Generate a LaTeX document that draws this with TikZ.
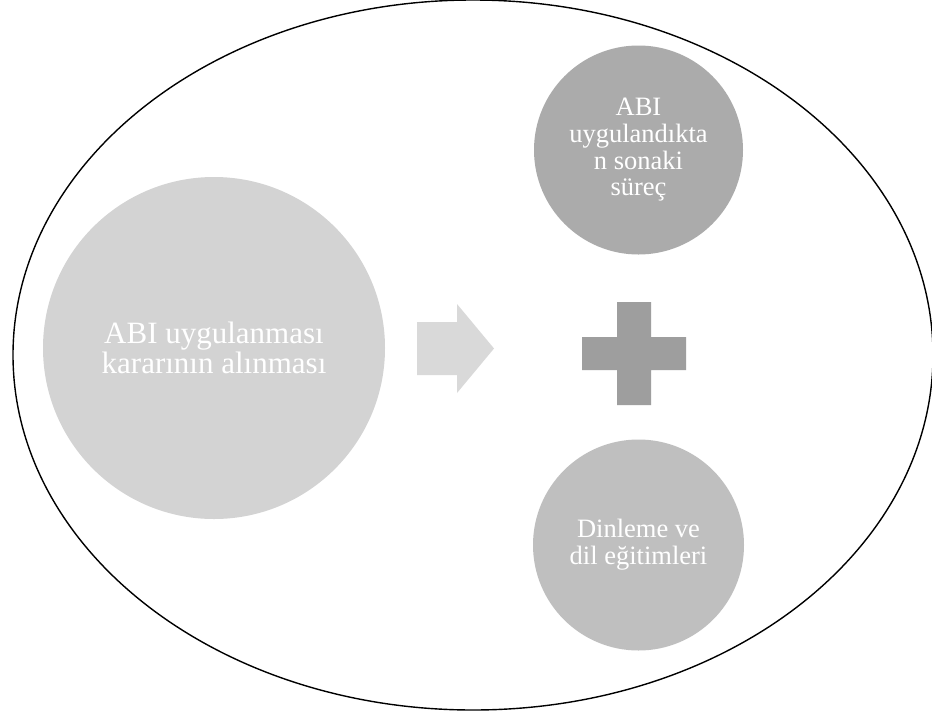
\documentclass[tikz,border=0pt]{standalone}
\usepackage{fontspec}
\setmainfont{Liberation Serif}
\definecolor{cbig}{HTML}{D3D3D3}
\definecolor{carrow}{HTML}{D9D9D9}
\definecolor{ctop}{HTML}{ABABAB}
\definecolor{cplus}{HTML}{9E9E9E}
\definecolor{cbot}{HTML}{BFBFBF}
\tikzset{
  blob/.style={circle, inner sep=0pt, text=white, align=center},
  outline/.style={draw=black, line width=1.4pt},
}
\begin{document}
\begin{tikzpicture}[x=1pt, y=-1pt]
\useasboundingbox (0,0) rectangle (932,716);
\fill[white] (0,0) rectangle (932,716);
\draw[outline] (473,355) ellipse [x radius=460, y radius=355];
\node[blob, fill=cbig, minimum size=342pt, font=\fontsize{31}{30}\selectfont] (big) at (214,348) {ABI uygulanması\\kararının alınması};
\node[blob, fill=ctop, minimum size=209pt, font=\fontsize{26.5}{26.7}\selectfont] (top) at (638.5,150) {ABI\\uygulandıkta\\n sonaki\\süreç};
\node[blob, fill=cbot, minimum size=211pt, font=\fontsize{26.5}{26.7}\selectfont] (bot) at (638.5,545) {Dinleme ve\\dil eğitimleri};
\fill[carrow] (417,322) -- (457,322) -- (457,304) -- (494,348.5) -- (457,393) -- (457,375) -- (417,375) -- cycle;
\fill[cplus] (617,302) -- (651,302) -- (651,337) -- (686,337) -- (686,370) -- (651,370) -- (651,405) -- (617,405) -- (617,370) -- (582,370) -- (582,337) -- (617,337) -- cycle;
\end{tikzpicture}
\end{document}
